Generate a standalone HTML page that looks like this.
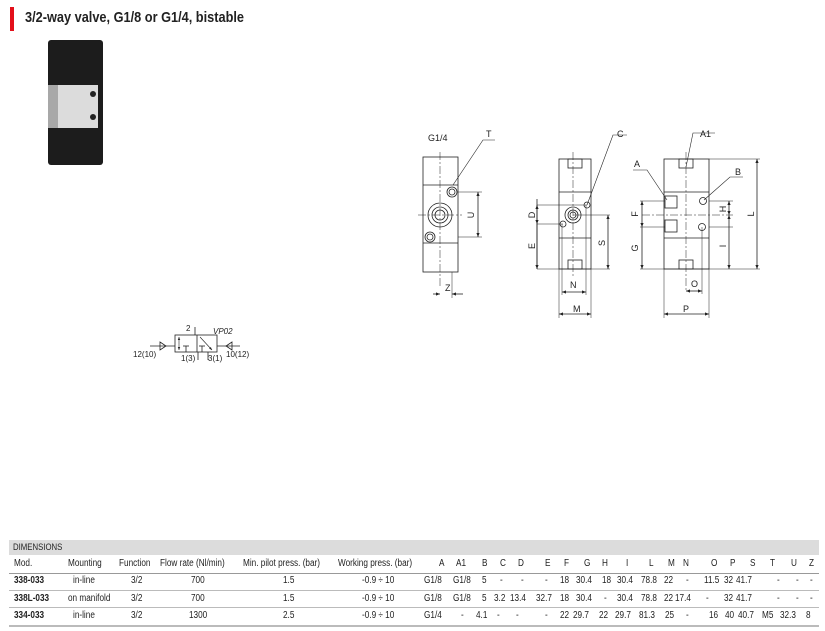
<!DOCTYPE html>
<html><head><meta charset="utf-8"><style>
body{margin:0;width:825px;height:631px;background:#fff;position:relative;overflow:hidden;font-family:"Liberation Sans",sans-serif;color:#222}
.t{position:absolute;font-size:10px;white-space:nowrap;line-height:12px;transform:scaleX(.82);transform-origin:0 0}
.b{font-weight:bold}
</style></head><body>
<div style="position:absolute;left:10px;top:7px;width:4px;height:24px;background:#e3101a"></div>
<div style="position:absolute;left:25px;top:9px;font:bold 15px 'Liberation Sans',sans-serif;color:#222;transform:scaleX(.85);transform-origin:0 0;white-space:nowrap">3/2-way valve, G1/8 or G1/4, bistable</div>
<div style="position:absolute;left:48px;top:40px;width:55px;height:125px;background:#1c1c1c;border-radius:3px"></div>
<div style="position:absolute;left:58px;top:85px;width:40px;height:43px;background:#dcdcdc"></div>
<div style="position:absolute;left:48px;top:85px;width:10px;height:43px;background:#a8a8a8"></div>
<div style="position:absolute;left:90px;top:91px;width:6px;height:6px;background:#222;border-radius:50%"></div>
<div style="position:absolute;left:90px;top:114px;width:6px;height:6px;background:#222;border-radius:50%"></div>
<svg width="825" height="631" style="position:absolute;left:0;top:0" font-family="Liberation Sans,sans-serif" font-size="9" fill="none" stroke="#222" stroke-width="0.8">
<defs><marker id="a" markerWidth="6" markerHeight="6" refX="5" refY="3" orient="auto-start-reverse"><path d="M0,1 L5,3 L0,5" fill="#222" stroke="none"/></marker></defs>
<rect x="423" y="157" width="35" height="115"/>
<line x1="423" y1="185" x2="458" y2="185"/><line x1="423" y1="243" x2="458" y2="243"/>
<circle cx="440" cy="215" r="12"/><circle cx="440" cy="215" r="8"/><circle cx="440" cy="215" r="5"/>
<circle cx="452" cy="192" r="5"/><circle cx="452" cy="192" r="3"/>
<circle cx="430" cy="237" r="5"/><circle cx="430" cy="237" r="3"/>
<line x1="440" y1="152" x2="440" y2="287" stroke-dasharray="8,2,2,2" stroke-width="0.5"/>
<line x1="418" y1="215" x2="462" y2="215" stroke-dasharray="8,2,2,2" stroke-width="0.5"/>
<polyline points="453,185 483,140 495,140" stroke-width="0.6"/>
<line x1="458" y1="192" x2="482" y2="192" stroke-width="0.5"/><line x1="458" y1="237" x2="482" y2="237" stroke-width="0.5"/>
<line x1="478" y1="192" x2="478" y2="237" marker-start="url(#a)" marker-end="url(#a)"/>
<line x1="452" y1="272" x2="452" y2="298" stroke-width="0.5"/>
<line x1="433" y1="294" x2="440" y2="294" marker-end="url(#a)"/><line x1="463" y1="294" x2="452" y2="294" marker-end="url(#a)"/>
<rect x="559" y="159" width="32" height="110"/>
<line x1="559" y1="192" x2="591" y2="192"/><line x1="559" y1="238" x2="591" y2="238"/>
<rect x="568" y="159" width="14" height="9"/><rect x="568" y="260" width="14" height="9"/>
<circle cx="573" cy="215" r="8"/><circle cx="573" cy="215" r="5"/><circle cx="573" cy="215" r="3"/>
<circle cx="587" cy="205" r="3"/><circle cx="563" cy="224" r="3"/>
<line x1="573" y1="152" x2="573" y2="276" stroke-dasharray="8,2,2,2" stroke-width="0.5"/>
<line x1="573" y1="215" x2="610" y2="215" stroke-width="0.5"/>
<line x1="537" y1="205" x2="587" y2="205" stroke-width="0.5"/><line x1="537" y1="224" x2="563" y2="224" stroke-width="0.5"/>
<line x1="537" y1="269" x2="610" y2="269" stroke-width="0.5"/>
<line x1="537" y1="199" x2="537" y2="269"/>
<line x1="537" y1="205" x2="537" y2="224" marker-start="url(#a)" marker-end="url(#a)"/>
<line x1="537" y1="224" x2="537" y2="269" marker-end="url(#a)"/>
<line x1="608" y1="215" x2="608" y2="269" marker-start="url(#a)" marker-end="url(#a)"/>
<polyline points="587,205 613,135 627,135" stroke-width="0.6"/>
<line x1="562" y1="224" x2="562" y2="295" stroke-width="0.5"/><line x1="586" y1="205" x2="586" y2="295" stroke-width="0.5"/>
<line x1="562" y1="292" x2="586" y2="292" marker-start="url(#a)" marker-end="url(#a)"/>
<line x1="559" y1="269" x2="559" y2="318" stroke-width="0.5"/><line x1="591" y1="269" x2="591" y2="318" stroke-width="0.5"/>
<line x1="559" y1="314" x2="591" y2="314" marker-start="url(#a)" marker-end="url(#a)"/>
<rect x="664" y="159" width="45" height="110"/>
<line x1="664" y1="192" x2="709" y2="192"/><line x1="664" y1="238" x2="709" y2="238"/>
<rect x="679" y="159" width="14" height="9"/><rect x="679" y="260" width="14" height="9"/>
<rect x="665" y="196" width="12" height="12"/><rect x="665" y="220" width="12" height="12"/>
<circle cx="703" cy="201" r="3.5"/><circle cx="702" cy="227" r="3.5"/>
<line x1="686" y1="152" x2="686" y2="292" stroke-dasharray="8,2,2,2" stroke-width="0.5"/>
<line x1="642" y1="215" x2="733" y2="215" stroke-dasharray="8,2,2,2" stroke-width="0.5"/>
<line x1="640" y1="201" x2="665" y2="201" stroke-width="0.5"/><line x1="709" y1="201" x2="733" y2="201" stroke-width="0.5"/>
<line x1="640" y1="227" x2="665" y2="227" stroke-width="0.5"/><line x1="709" y1="227" x2="733" y2="227" stroke-width="0.5"/>
<line x1="640" y1="269" x2="760" y2="269" stroke-width="0.5"/><line x1="709" y1="159" x2="760" y2="159" stroke-width="0.5"/>
<line x1="757" y1="159" x2="757" y2="269" marker-start="url(#a)" marker-end="url(#a)"/>
<line x1="729" y1="201" x2="729" y2="215" marker-start="url(#a)" marker-end="url(#a)"/>
<line x1="729" y1="215" x2="729" y2="269" marker-start="url(#a)" marker-end="url(#a)"/>
<line x1="642" y1="201" x2="642" y2="227" marker-start="url(#a)" marker-end="url(#a)"/>
<line x1="642" y1="227" x2="642" y2="269" marker-end="url(#a)"/>
<polyline points="686,167 693,133 715,133" stroke-width="0.6"/>
<polyline points="667,200 647,170 633,170" stroke-width="0.6"/>
<polyline points="704,200 730,177 743,177" stroke-width="0.6"/>
<line x1="702" y1="227" x2="702" y2="294" stroke-width="0.5"/>
<line x1="686" y1="291" x2="702" y2="291" marker-start="url(#a)" marker-end="url(#a)"/>
<line x1="664" y1="269" x2="664" y2="318" stroke-width="0.5"/><line x1="709" y1="269" x2="709" y2="318" stroke-width="0.5"/>
<line x1="664" y1="314" x2="709" y2="314" marker-start="url(#a)" marker-end="url(#a)"/>
<g fill="#222" stroke="none">
<text x="428" y="141">G1/4</text><text x="486" y="137">T</text>
<text x="474" y="215" transform="rotate(-90 474 215)" text-anchor="middle">U</text>
<text x="445" y="291">Z</text>
<text x="617" y="137">C</text>
<text x="535" y="215" transform="rotate(-90 535 215)" text-anchor="middle">D</text>
<text x="535" y="246" transform="rotate(-90 535 246)" text-anchor="middle">E</text>
<text x="605" y="243" transform="rotate(-90 605 243)" text-anchor="middle">S</text>
<text x="570" y="288">N</text><text x="573" y="312">M</text>
<text x="700" y="137">A1</text><text x="634" y="167">A</text><text x="735" y="175">B</text>
<text x="754" y="214" transform="rotate(-90 754 214)" text-anchor="middle">L</text>
<text x="726" y="209" transform="rotate(-90 726 209)" text-anchor="middle">H</text>
<text x="726" y="246" transform="rotate(-90 726 246)" text-anchor="middle">I</text>
<text x="638" y="214" transform="rotate(-90 638 214)" text-anchor="middle">F</text>
<text x="638" y="248" transform="rotate(-90 638 248)" text-anchor="middle">G</text>
<text x="691" y="287">O</text><text x="683" y="312">P</text>
</g>
<rect x="175" y="335" width="42" height="17"/><line x1="197" y1="335" x2="197" y2="352"/>
<line x1="179" y1="337" x2="179" y2="350" marker-start="url(#a)" marker-end="url(#a)" stroke-width="0.6"/>
<line x1="195" y1="327" x2="195" y2="335"/>
<line x1="186" y1="346" x2="186" y2="352"/><line x1="183" y1="346" x2="189" y2="346"/>
<line x1="202" y1="346" x2="202" y2="352"/><line x1="199" y1="346" x2="205" y2="346"/>
<line x1="200" y1="337" x2="212" y2="350" marker-end="url(#a)" stroke-width="0.6"/>
<line x1="198" y1="352" x2="198" y2="360"/><line x1="208" y1="352" x2="208" y2="360"/>
<line x1="150" y1="346" x2="175" y2="346"/><polygon points="160,342 166,346 160,350"/>
<line x1="217" y1="346" x2="240" y2="346"/><polygon points="232,342 226,346 232,350"/>
<g fill="#222" stroke="none" font-size="8">
<text x="186" y="331">2</text><text x="213" y="334" font-style="italic">VP02</text>
<text x="133" y="357">12(10)</text><text x="226" y="357">10(12)</text>
<text x="181" y="361">1(3)</text><text x="208" y="361">3(1)</text>
</g>
</svg>
<div style="position:absolute;left:9px;top:540px;width:810px;height:15px;background:#dcdcdc"></div>
<div style="position:absolute;left:9px;top:573px;width:810px;height:1px;background:#999"></div>
<div style="position:absolute;left:9px;top:590px;width:810px;height:1px;background:#bbb"></div>
<div style="position:absolute;left:9px;top:607px;width:810px;height:1px;background:#bbb"></div>
<div style="position:absolute;left:9px;top:625px;width:810px;height:2px;background:#bbb"></div>
<div class="t" style="left:13px;top:542px;font-size:9.5px">DIMENSIONS</div>
<div class="t" style="top:558px;left:14px">Mod.</div>
<div class="t" style="top:558px;left:68px">Mounting</div>
<div class="t" style="top:558px;left:119px">Function</div>
<div class="t" style="top:558px;left:160px">Flow rate (Nl/min)</div>
<div class="t" style="top:558px;left:243px">Min. pilot press. (bar)</div>
<div class="t" style="top:558px;left:338px">Working press. (bar)</div>
<div class="t" style="top:558px;left:439px">A</div><div class="t" style="top:558px;left:456px">A1</div>
<div class="t" style="top:558px;left:482px">B</div><div class="t" style="top:558px;left:500px">C</div>
<div class="t" style="top:558px;left:518px">D</div><div class="t" style="top:558px;left:545px">E</div>
<div class="t" style="top:558px;left:564px">F</div><div class="t" style="top:558px;left:584px">G</div>
<div class="t" style="top:558px;left:602px">H</div><div class="t" style="top:558px;left:626px">I</div>
<div class="t" style="top:558px;left:649px">L</div><div class="t" style="top:558px;left:668px">M</div>
<div class="t" style="top:558px;left:683px">N</div><div class="t" style="top:558px;left:711px">O</div>
<div class="t" style="top:558px;left:730px">P</div><div class="t" style="top:558px;left:750px">S</div>
<div class="t" style="top:558px;left:770px">T</div><div class="t" style="top:558px;left:791px">U</div>
<div class="t" style="top:558px;left:809px">Z</div>

<div class="t b" style="top:575px;left:14px">338-033</div><div class="t" style="top:575px;left:73px">in-line</div>
<div class="t" style="top:575px;left:131px">3/2</div><div class="t" style="top:575px;left:191px">700</div>
<div class="t" style="top:575px;left:283px">1.5</div><div class="t" style="top:575px;left:362px">-0.9 ÷ 10</div>
<div class="t" style="top:575px;left:424px">G1/8</div><div class="t" style="top:575px;left:453px">G1/8</div>
<div class="t" style="top:575px;left:482px">5</div><div class="t" style="top:575px;left:500px">-</div>
<div class="t" style="top:575px;left:521px">-</div><div class="t" style="top:575px;left:545px">-</div>
<div class="t" style="top:575px;left:560px">18</div><div class="t" style="top:575px;left:576px">30.4</div>
<div class="t" style="top:575px;left:602px">18</div><div class="t" style="top:575px;left:617px">30.4</div>
<div class="t" style="top:575px;left:641px">78.8</div><div class="t" style="top:575px;left:664px">22</div>
<div class="t" style="top:575px;left:686px">-</div><div class="t" style="top:575px;left:704px">11.5</div>
<div class="t" style="top:575px;left:724px">32</div><div class="t" style="top:575px;left:736px">41.7</div>
<div class="t" style="top:575px;left:777px">-</div><div class="t" style="top:575px;left:796px">-</div>
<div class="t" style="top:575px;left:810px">-</div>

<div class="t b" style="top:593px;left:14px">338L-033</div><div class="t" style="top:593px;left:68px">on manifold</div>
<div class="t" style="top:593px;left:131px">3/2</div><div class="t" style="top:593px;left:191px">700</div>
<div class="t" style="top:593px;left:283px">1.5</div><div class="t" style="top:593px;left:362px">-0.9 ÷ 10</div>
<div class="t" style="top:593px;left:424px">G1/8</div><div class="t" style="top:593px;left:453px">G1/8</div>
<div class="t" style="top:593px;left:482px">5</div><div class="t" style="top:593px;left:494px">3.2</div>
<div class="t" style="top:593px;left:510px">13.4</div><div class="t" style="top:593px;left:536px">32.7</div>
<div class="t" style="top:593px;left:560px">18</div><div class="t" style="top:593px;left:576px">30.4</div>
<div class="t" style="top:593px;left:604px">-</div><div class="t" style="top:593px;left:617px">30.4</div>
<div class="t" style="top:593px;left:641px">78.8</div><div class="t" style="top:593px;left:664px">22</div>
<div class="t" style="top:593px;left:675px">17.4</div><div class="t" style="top:593px;left:706px">-</div>
<div class="t" style="top:593px;left:724px">32</div><div class="t" style="top:593px;left:736px">41.7</div>
<div class="t" style="top:593px;left:777px">-</div><div class="t" style="top:593px;left:796px">-</div>
<div class="t" style="top:593px;left:810px">-</div>

<div class="t b" style="top:610px;left:14px">334-033</div><div class="t" style="top:610px;left:73px">in-line</div>
<div class="t" style="top:610px;left:131px">3/2</div><div class="t" style="top:610px;left:189px">1300</div>
<div class="t" style="top:610px;left:283px">2.5</div><div class="t" style="top:610px;left:362px">-0.9 ÷ 10</div>
<div class="t" style="top:610px;left:424px">G1/4</div><div class="t" style="top:610px;left:461px">-</div>
<div class="t" style="top:610px;left:476px">4.1</div><div class="t" style="top:610px;left:497px">-</div>
<div class="t" style="top:610px;left:516px">-</div><div class="t" style="top:610px;left:545px">-</div>
<div class="t" style="top:610px;left:560px">22</div><div class="t" style="top:610px;left:573px">29.7</div>
<div class="t" style="top:610px;left:599px">22</div><div class="t" style="top:610px;left:615px">29.7</div>
<div class="t" style="top:610px;left:639px">81.3</div><div class="t" style="top:610px;left:665px">25</div>
<div class="t" style="top:610px;left:686px">-</div><div class="t" style="top:610px;left:709px">16</div>
<div class="t" style="top:610px;left:725px">40</div><div class="t" style="top:610px;left:738px">40.7</div>
<div class="t" style="top:610px;left:762px">M5</div><div class="t" style="top:610px;left:780px">32.3</div>
<div class="t" style="top:610px;left:806px">8</div>
</body></html>
